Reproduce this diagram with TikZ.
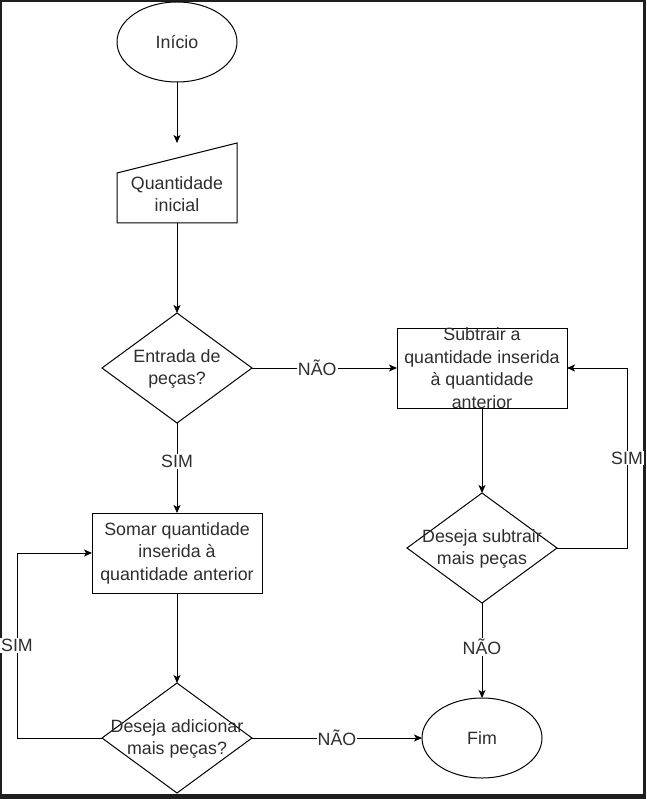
\documentclass[tikz,border=0pt]{standalone}
\usepackage{fontspec}
\setmainfont{Liberation Sans}
\usetikzlibrary{shapes.geometric,arrows.meta}
\definecolor{frame}{HTML}{1E1E1E}
\definecolor{ink}{HTML}{2E2E2E}
\begin{document}
\begin{tikzpicture}[x=1pt,y=-1pt,
  every node/.style={inner sep=0pt, outer sep=0pt},
  shape line/.style={draw=black, line width=1pt},
  terminal/.style={shape line, ellipse, minimum width=120pt, minimum height=80pt},
  process/.style={shape line, rectangle, minimum width=170pt, minimum height=80pt},
  decision/.style={shape line, diamond, minimum width=150pt, minimum height=110pt},
  txt/.style={font=\fontsize{17.8}{22.5}\selectfont, text=ink, align=center},
  flow/.style={line width=1pt, -{Stealth[length=8pt,width=7pt,inset=2pt]}},
  tag/.style={txt, fill=white, inner sep=1pt}
]
% page frame
\fill[frame] (0,0) rectangle (646,799);
\fill[white] (2,2) rectangle (643,794);
\useasboundingbox (0,0) rectangle (646,799);

% shapes
\node[terminal] (ini) at (177,42) {};
\node[txt] (tIni) at (ini) {Início};

\node[minimum width=120pt, minimum height=80pt] (inp) at (177,183) {};
\draw[shape line] (inp.south west) -- (inp.south east) -- (inp.north east)
  -- ([yshift=-30pt]inp.north west) -- cycle;
\node[txt] (tInp) at (177,194) {Quantidade\\inicial};

\node[decision] (d1) at (177,368) {};
\node[txt] (tD1) at (177,369) {Entrada de\\peças?};

\node[process] (sub) at (482,368) {};
\node[txt] (tSub) at (482,368) {Subtrair a\\quantidade inserida\\à quantidade\\anterior};

\node[decision] (d2) at (482,548) {};
\node[txt] (tD2) at (482,549) {Deseja subtrair\\mais peças};

\node[terminal] (fim) at (482,738) {};
\node[txt] (tFim) at (fim) {Fim};

\node[process] (som) at (177,553) {};
\node[txt] (tSom) at (som) {Somar quantidade\\inserida à\\quantidade anterior};

\node[decision] (d3) at (177,738) {};
\node[txt] (tD3) at (177,739) {Deseja adicionar\\mais peças?};

% loop-back columns
\coordinate (r) at (627,0);
\coordinate (l) at (17,0);

% connectors
\draw[flow] (ini.south) -- (inp.north);
\draw[flow] (inp.south) -- (d1.north);
\draw[flow] (d1.east) -- node[tag,pos=0.45]{NÃO} (sub.west);
\draw[flow] (sub.south) -- (d2.north);
\draw[flow] (d2.east) -- (d2.east -| r) -- node[tag]{SIM} (sub.east -| r) -- (sub.east);
\draw[flow] (d2.south) -- node[tag,pos=0.46]{NÃO} (fim.north);
\draw[flow] (d1.south) -- node[tag,pos=0.43]{SIM} (som.north);
\draw[flow] (som.south) -- (d3.north);
\draw[flow] (d3.west) -- (d3.west -| l) -- node[tag]{SIM} (som.west -| l) -- (som.west);
\draw[flow] (d3.east) -- node[tag]{NÃO} (fim.west);
\end{tikzpicture}
\end{document}
